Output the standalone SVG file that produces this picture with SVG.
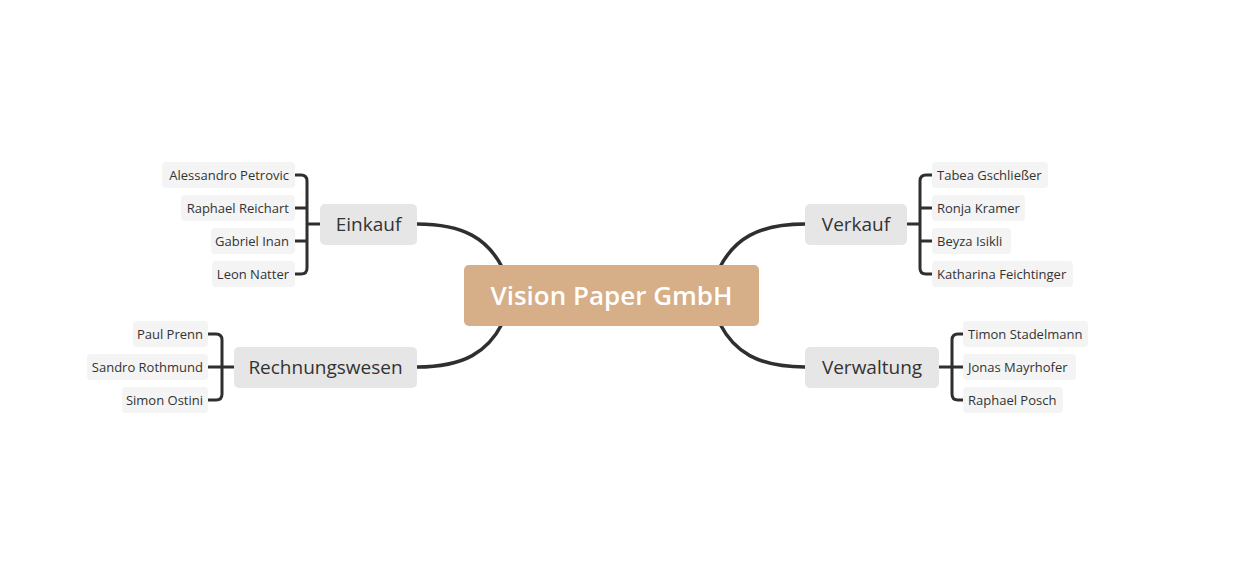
<svg xmlns="http://www.w3.org/2000/svg" width="1246" height="580" viewBox="0 0 1246 580">
<style>
.leaf rect{fill:#F4F4F4}
.leaf text{font-family:"Open Sans","Noto Sans",sans-serif;font-size:13px;fill:#333}
.branch rect{fill:#E6E6E6}
.branch text{font-family:"Open Sans","Noto Sans",sans-serif;font-size:19px;fill:#333;text-anchor:middle}
.l text{text-anchor:end}
.r text{text-anchor:start}
.conn path{fill:none;stroke:#2F2F2F;stroke-width:3.5;stroke-linecap:round}
.conn path.t{stroke-width:3}
</style>
<rect width="1246" height="580" fill="#fff"/>
<g class="conn">
<path d="M417,224 C465,224 488,240 502,267"/>
<path d="M417,367 C465,367 488,351 502,324"/>
<path d="M805,224 C757,224 734,240 720,267"/>
<path d="M805,367 C757,367 734,351 720,324"/>
<path class="t" d="M295,175 H301 Q307,175 307,181 V268 Q307,274 301,274 H295 M295,208 H307 M295,241 H307 M307,224 H320"/>
<path class="t" d="M208,334 H216 Q222,334 222,340 V394 Q222,400 216,400 H208 M208,367 H234"/>
<path class="t" d="M932,175 H926 Q920,175 920,181 V268 Q920,274 926,274 H932 M932,208 H920 M932,241 H920 M920,224 H907"/>
<path class="t" d="M963,334 H958 Q952,334 952,340 V394 Q952,400 958,400 H963 M963,367 H939"/>
</g>
<g id="center">
<rect x="464" y="265" width="295" height="61" rx="5" fill="#D6AE87"/>
<text x="611.5" y="305" font-family="'Open Sans','Noto Sans',sans-serif" font-size="26" font-weight="600" fill="#fff" text-anchor="middle">Vision Paper GmbH</text>
</g>
<g id="einkauf" class="branch"><rect x="320" y="204" width="97" height="41" rx="5"/><text x="368.5" y="231">Einkauf</text></g>
<g id="rechnungswesen" class="branch"><rect x="234" y="347" width="183" height="41" rx="5"/><text x="325.5" y="374">Rechnungswesen</text></g>
<g id="verkauf" class="branch"><rect x="805" y="204" width="102" height="41" rx="5"/><text x="856" y="231">Verkauf</text></g>
<g id="verwaltung" class="branch"><rect x="805" y="347" width="134" height="41" rx="5"/><text x="872" y="374">Verwaltung</text></g>
<g id="leaf-petrovic" class="leaf l"><rect x="162" y="162" width="133" height="26" rx="4"/><text x="289" y="180">Alessandro Petrovic</text></g>
<g id="leaf-reichart" class="leaf l"><rect x="181" y="195" width="114" height="26" rx="4"/><text x="289" y="213">Raphael Reichart</text></g>
<g id="leaf-inan" class="leaf l"><rect x="211" y="228" width="84" height="26" rx="4"/><text x="289" y="246">Gabriel Inan</text></g>
<g id="leaf-natter" class="leaf l"><rect x="212" y="261" width="83" height="26" rx="4"/><text x="289" y="279">Leon Natter</text></g>
<g id="leaf-prenn" class="leaf l"><rect x="133" y="321" width="75" height="26" rx="4"/><text x="203" y="339">Paul Prenn</text></g>
<g id="leaf-rothmund" class="leaf l"><rect x="87" y="354" width="121" height="26" rx="4"/><text x="203" y="372">Sandro Rothmund</text></g>
<g id="leaf-ostini" class="leaf l"><rect x="122" y="387" width="86" height="26" rx="4"/><text x="203" y="405">Simon Ostini</text></g>
<g id="leaf-gschliesser" class="leaf r"><rect x="932" y="162" width="116" height="26" rx="4"/><text x="937" y="180">Tabea Gschließer</text></g>
<g id="leaf-kramer" class="leaf r"><rect x="932" y="195" width="93" height="26" rx="4"/><text x="937" y="213">Ronja Kramer</text></g>
<g id="leaf-isikli" class="leaf r"><rect x="932" y="228" width="79" height="26" rx="4"/><text x="937" y="246">Beyza Isikli</text></g>
<g id="leaf-feichtinger" class="leaf r"><rect x="932" y="261" width="141" height="26" rx="4"/><text x="937" y="279">Katharina Feichtinger</text></g>
<g id="leaf-stadelmann" class="leaf r"><rect x="963" y="321" width="125" height="26" rx="4"/><text x="968" y="339">Timon Stadelmann</text></g>
<g id="leaf-mayrhofer" class="leaf r"><rect x="963" y="354" width="113" height="26" rx="4"/><text x="968" y="372">Jonas Mayrhofer</text></g>
<g id="leaf-posch" class="leaf r"><rect x="963" y="387" width="100" height="26" rx="4"/><text x="968" y="405">Raphael Posch</text></g>
</svg>
